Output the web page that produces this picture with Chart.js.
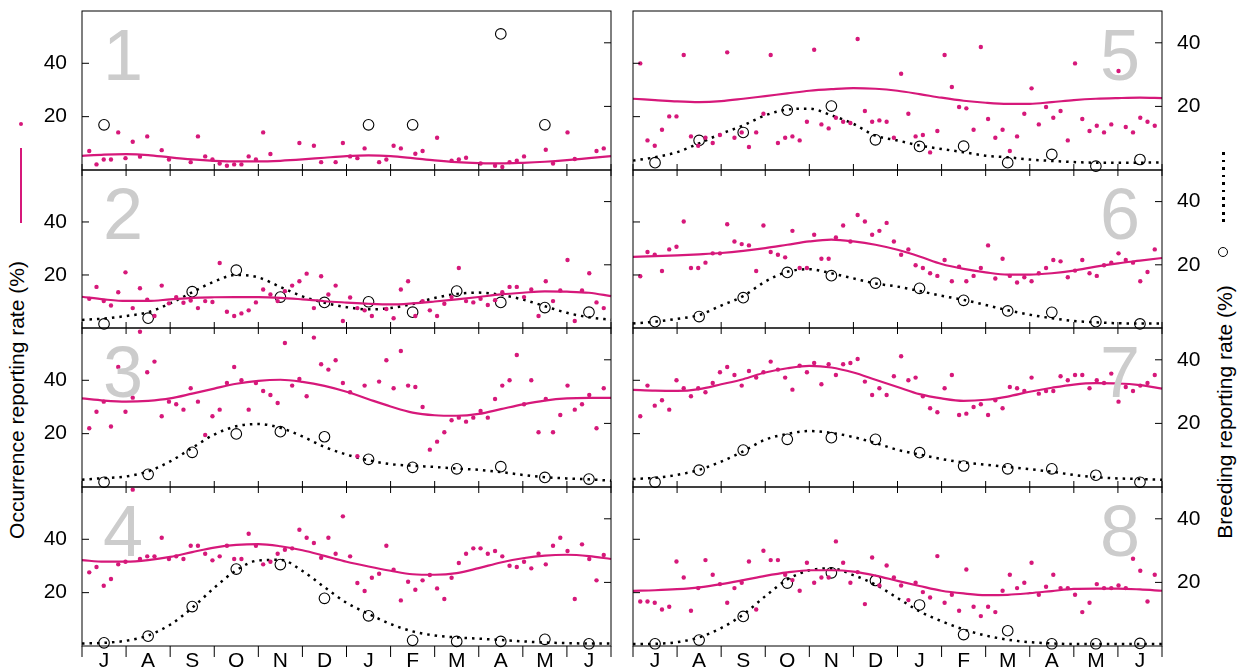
<!DOCTYPE html>
<html>
<head>
<meta charset="utf-8">
<script src="https://cdn.jsdelivr.net/npm/chart.js@4.4.0/dist/chart.umd.min.js"></script>
<style>
body { margin:0; background:#fff; width:1241px; height:669px; position:relative; overflow:hidden;
       font-family:"Liberation Sans", Arial, sans-serif; color:#000; }
canvas { position:absolute; }
.num { position:absolute; font-size:72px; line-height:72px; color:#cccccc; }
.ytitle { position:absolute; font-size:21px; white-space:nowrap; transform:translate(-50%,-50%) rotate(-90deg); }
.key { position:absolute; }
</style>
</head>
<body>

<div class="ytitle" style="left:17px;top:400px;">Occurrence reporting rate (%)</div>
<div class="ytitle" style="left:1225px;top:412px;">Breeding reporting rate (%)</div>

<div class="key" style="left:19px;top:122px;width:4.4px;height:4.4px;border-radius:50%;background:#d6187a;"></div>
<div class="key" style="left:20px;top:148px;width:2px;height:75px;background:#d6187a;"></div>
<div class="key" style="left:1222px;top:152px;width:2.5px;height:71px;background:repeating-linear-gradient(to bottom,#000 0,#000 2.5px,transparent 2.5px,transparent 7.5px);"></div>
<div class="key" style="left:1217.7px;top:246.7px;width:10.6px;height:10.6px;box-sizing:border-box;border:1.1px solid #000;border-radius:50%;"></div>

<script>
var pink = "#d6187a";
var monthLabels = ["J", "A", "S", "O", "N", "D", "J", "F", "M", "A", "M", "J"];
var yTicks = [20, 40];

// occurrence reporting rate, one value per pentad (pentads 1..72 of the year from July)
var occ1 = [7.1,2.1,3.95,3.95,14.1,4.45,10.6,5.0,12.6,null,7.45,3.95,null,null,2.95,12.6,5.1,3.95,2.45,1.6,2.1,2.1,5.1,3.95,14.1,6.0,null,null,null,10.1,null,9.1,2.95,null,2.95,10.1,5.1,4.45,8.1,null,2.95,3.95,9.1,8.1,null,6.1,7.1,null,12.1,null,3.45,3.95,4.6,null,2.45,null,1.6,1.1,2.95,3.45,5.1,null,null,7.6,2.45,null,14.1,4.1,null,null,7.1,8.1];
var occ2 = [11.0,15.5,10.15,8.5,13.5,21.0,7.5,15.0,10.65,4.5,16.0,9.3,11.65,9.5,10.4,7.5,10.15,9.8,24.5,6.15,4.5,5.5,6.65,9.65,14.5,12.65,10.15,13.9,16.0,17.65,20.5,7.5,19.5,12.65,16.0,2.65,11.5,7.5,6.65,4.5,null,7.15,3.65,14.5,17.65,4.5,10.15,6.65,4.5,9.15,11.65,22.65,10.15,9.65,11.0,8.65,10.5,13.5,15.5,15.5,11.65,14.5,4.5,17.65,10.15,14.15,25.65,2.65,14.15,20.65,9.65,7.5];
var occ3 = [22.0,28.2,32.0,22.7,45.0,28.2,33.5,58.2,43.0,47.0,26.5,32.0,31.0,29.0,37.0,32.0,19.5,26.5,29.0,39.0,45.0,40.0,29.0,39.0,36.0,34.5,31.5,54.0,38.0,40.5,34.0,56.0,46.0,44.0,47.5,39.0,35.5,11.5,38.0,null,39.5,47.5,37.0,51.0,38.0,37.5,30.0,14.0,17.0,20.5,25.0,26.0,24.5,26.0,28.5,26.0,33.0,38.0,40.0,49.5,31.0,40.0,20.5,33.0,20.5,27.0,38.0,29.0,31.0,34.5,22.0,37.0];
var occ4 = [27.6,29.6,22.6,25.1,30.6,31.6,58.6,32.6,33.6,33.6,40.6,32.6,33.6,32.6,37.6,37.6,34.6,32.1,33.6,37.6,32.6,32.6,42.1,37.6,30.6,31.6,34.6,36.1,36.6,43.6,40.6,38.6,33.1,40.6,34.6,48.6,33.6,23.6,20.6,25.6,27.1,37.6,28.6,17.1,24.1,21.1,24.6,26.6,21.6,17.6,25.6,31.1,34.6,36.6,36.6,34.6,35.6,33.6,30.1,29.6,31.6,29.1,34.6,30.6,37.6,40.6,35.6,17.6,38.1,32.6,24.6,34.1];
var occ5 = [39.95,11.1,9.1,15.1,20.1,20.1,43.1,12.6,9.1,12.1,10.1,13.1,44.1,12.1,14.1,8.6,14.1,21.1,43.1,10.1,12.1,12.6,11.1,18.1,45.1,17.1,15.6,19.6,18.1,17.6,49.1,22.1,18.1,18.6,18.1,12.1,36.1,21.1,12.6,13.1,6.6,14.6,43.1,31.1,23.6,23.1,15.1,46.1,19.1,12.1,15.1,7.1,12.6,21.1,30.6,17.1,23.6,19.6,22.1,11.1,39.95,19.1,14.6,16.6,14.1,17.1,37.1,16.1,14.1,19.6,18.1,16.6];
var occ6 = [19.5,28.65,27.65,21.5,29.65,30.65,40.15,22.65,22.65,24.65,28.15,28.15,39.15,32.65,31.65,31.15,21.5,38.65,28.65,27.65,26.65,36.65,22.65,22.65,35.15,26.15,26.15,34.15,38.65,32.65,42.65,40.15,35.15,36.65,39.65,32.65,27.65,29.65,23.65,22.65,20.65,19.65,25.65,17.65,23.15,17.65,19.65,22.65,31.15,18.65,26.15,19.65,17.15,19.15,17.65,20.65,22.65,25.65,25.15,19.15,21.65,25.65,20.65,19.65,23.65,24.65,28.15,25.65,24.65,17.65,21.15,29.65];
var occ7 = [26.5,38.0,30.5,32.5,29.0,40.0,37.0,34.0,37.0,35.5,39.0,43.0,45.0,42.0,38.0,43.5,41.0,43.0,47.0,44.0,41.0,36.5,45.5,43.0,46.5,38.5,46.0,42.0,46.0,46.5,48.0,39.5,34.5,37.0,34.5,41.5,49.0,40.0,41.0,34.0,29.5,28.0,37.0,42.0,27.0,27.5,30.0,31.0,27.0,32.5,29.5,37.5,37.0,36.0,41.0,35.0,36.0,36.0,41.5,40.0,42.0,42.0,37.0,40.0,39.0,42.5,32.0,37.5,36.0,38.0,39.0,42.0];
var occ8 = [16.7,16.7,16.2,13.7,14.7,31.7,25.7,13.2,21.7,32.2,26.7,23.2,16.2,21.7,23.7,31.7,13.7,35.7,32.2,32.2,26.7,24.7,20.7,31.2,23.7,25.7,25.7,39.2,31.2,23.7,27.7,15.7,33.2,22.7,30.2,25.7,22.7,17.2,23.7,20.2,18.2,33.7,16.2,19.2,13.2,28.7,14.7,11.2,14.7,12.7,20.7,26.7,21.7,23.7,31.2,19.2,22.2,26.7,21.7,21.7,19.2,12.7,16.2,23.2,21.7,21.7,22.7,21.7,32.7,28.2,16.7,26.7];

// smoothed occurrence, every half month from 1 July to 30 June
var occLine1 = [5.3,5.8,5.95,5.6,4.7,3.95,3.45,3.2,3.2,3.45,3.95,4.6,5.2,5.45,5.2,4.45,3.6,2.95,2.6,2.45,2.7,3.1,3.7,4.45,5.2];
var occLine2 = [11.8,10.8,10.2,10.2,10.8,11.4,11.6,11.65,11.65,11.4,10.8,10.1,9.6,9.15,8.9,9.3,10.0,10.8,11.7,12.65,13.3,13.8,13.7,13.3,12.0];
var occLine3 = [33.2,32.4,32.0,32.3,33.2,35.0,36.9,38.7,39.8,40.2,39.4,37.9,35.7,32.9,30.2,27.9,26.9,26.7,27.4,29.2,31.0,32.4,33.2,33.4,33.4];
var occLine4 = [32.2,31.6,31.6,32.2,33.4,35.2,36.9,37.9,38.2,37.4,35.9,33.8,31.6,29.8,28.2,26.9,26.7,27.3,29.2,31.3,32.9,33.9,34.2,33.7,32.6];
var occLine5 = [26.7,26.2,25.7,25.45,25.8,26.7,27.7,28.7,29.7,30.3,30.7,30.45,29.7,28.45,27.1,25.95,25.2,24.8,24.8,25.45,26.2,26.7,26.95,27.1,26.95];
var occLine6 = [26.8,27.1,27.4,27.8,28.3,29.1,30.15,31.4,32.65,33.3,32.65,31.4,29.5,27.0,24.15,22.3,21.0,20.15,20.15,20.65,21.65,23.15,24.4,25.4,26.4];
var occLine7 = [36.4,36.1,36.0,36.7,38.5,40.4,42.9,44.5,45.4,44.8,42.9,40.2,37.5,34.8,33.2,32.3,32.7,33.9,35.7,37.2,38.4,38.9,38.8,38.2,36.9];
var occLine8 = [20.7,20.9,21.3,22.0,23.2,24.7,26.3,27.6,28.4,28.4,27.9,26.4,24.4,22.5,20.7,19.7,19.1,19.2,19.8,20.6,21.4,21.5,21.5,21.2,20.7];

// breeding reporting rate, monthly (mid month)
var breed1 = [14.2,null,null,null,null,null,14.2,14.2,null,42.8,14.2,null];
var breed2 = [1.3,3.1,11.5,18.3,9.8,8.1,8.3,5.0,11.7,8.1,6.45,5.0];
var breed3 = [1.5,4.0,10.9,16.7,17.4,15.8,8.7,6.2,5.7,6.4,3.0,2.5];
var breed4 = [1.0,3.1,12.4,24.2,25.6,15.0,9.5,1.8,1.45,1.45,2.1,0.7];
var breed5 = [2.3,9.3,11.8,18.8,20.1,9.5,7.4,7.5,2.3,4.9,1.2,3.3];
var breed6 = [2.0,3.6,9.6,17.6,16.55,14.2,12.55,8.75,5.4,4.97,2.0,1.3];
var breed7 = [1.5,5.3,11.6,15.0,15.5,15.0,10.8,6.6,5.7,5.7,3.7,1.5];
var breed8 = [0.7,1.85,9.3,19.8,23.0,20.6,12.9,3.6,4.8,0.7,0.7,0.8];

// smoothed breeding, every half month
var breedLine2 = [2.55,3.0,3.8,5.0,7.8,11.3,14.7,16.8,16.0,13.0,10.0,8.0,6.6,5.9,6.3,7.6,9.5,10.8,11.2,10.5,9.0,6.9,4.8,3.4,2.6];
var breedLine3 = [2.3,2.8,3.3,4.9,8.05,12.3,16.5,19.1,19.8,18.6,15.9,12.6,10.2,8.4,7.2,6.7,6.3,5.8,5.4,4.7,3.8,3.1,2.7,2.4,2.0];
var breedLine4 = [0.8,1.0,1.65,3.3,6.7,12.0,18.3,23.8,26.9,27.1,23.6,18.5,13.6,10.1,6.9,4.6,3.3,2.7,2.3,1.9,1.45,1.1,0.9,0.8,0.8];
var breedLine5 = [2.95,4.0,5.6,8.4,11.4,14.0,17.2,19.0,19.3,17.2,14.5,10.8,9.3,7.7,6.6,5.6,4.5,4.0,3.3,2.85,2.5,2.3,2.3,2.3,2.4];
var breedLine6 = [1.4,2.0,2.9,4.1,7.1,10.1,14.7,17.8,18.6,17.3,15.7,14.1,13.1,11.7,10.2,8.9,7.3,5.6,4.2,3.1,2.2,1.8,1.5,1.4,1.4];
var breedLine7 = [2.5,2.9,3.8,5.4,8.0,11.2,14.9,16.7,17.6,17.0,15.7,13.8,11.7,10.2,8.8,7.7,7.0,6.3,5.6,4.8,3.8,3.1,2.7,2.5,2.3];
var breedLine8 = [0.6,0.7,1.2,2.7,5.65,9.9,15.65,20.9,23.8,24.4,22.3,19.3,15.1,10.9,7.8,5.2,3.3,2.0,1.2,0.8,0.6,0.6,0.6,0.6,0.6];

var panels = [
  {occ: occ1, occLine: occLine1, breed: breed1, breedLine: null},
  {occ: occ2, occLine: occLine2, breed: breed2, breedLine: breedLine2},
  {occ: occ3, occLine: occLine3, breed: breed3, breedLine: breedLine3},
  {occ: occ4, occLine: occLine4, breed: breed4, breedLine: breedLine4},
  {occ: occ5, occLine: occLine5, breed: breed5, breedLine: breedLine5},
  {occ: occ6, occLine: occLine6, breed: breed6, breedLine: breedLine6},
  {occ: occ7, occLine: occLine7, breed: breed7, breedLine: breedLine7},
  {occ: occ8, occLine: occLine8, breed: breed8, breedLine: breedLine8}
];

// x axis is in months since 1 July
var pentadX = [], halfMonthX = [], midMonthX = [];
for (var i = 1; i <= 72; i++) pentadX.push(i * 12 / 73);
for (var i = 0; i <= 24; i++) halfMonthX.push(i / 2);
for (var i = 0; i < 12; i++) midMonthX.push(i + 0.5);

var plotW = 529;
var colLeft = [82, 633];
var rowTop = [11, 170, 328, 487];
var rowBottom = [170, 328, 487, 646];
var ML = 70, MR = 70, MT = 10;

Chart.defaults.font.family = '"Liberation Sans", Arial, sans-serif';
Chart.defaults.color = "#000";

function pts(xs, ys) {
  var out = [];
  for (var i = 0; i < ys.length; i++) {
    if (ys[i] != null) out.push({x: xs[i], y: ys[i]});
  }
  return out;
}

// box, inward ticks on both y axes, month ticks on the bottom
var framePlugin = {
  id: "frame",
  afterDraw: function(chart, args, opts) {
    var c = chart.ctx, a = chart.chartArea;
    var yL = chart.scales.yL, yR = chart.scales.yR, x = chart.scales.x;
    c.save();
    c.strokeStyle = "#000";
    c.lineWidth = 1;
    c.strokeRect(a.left, a.top, a.right - a.left, a.bottom - a.top);
    c.beginPath();
    yTicks.forEach(function(v) {
      var py = yL.getPixelForValue(v);
      c.moveTo(a.left, py); c.lineTo(a.left + 7, py);
      py = yR.getPixelForValue(v);
      c.moveTo(a.right, py); c.lineTo(a.right - 7, py);
    });
    for (var m = 0; m <= 12; m++) {
      var px = x.getPixelForValue(m);
      if (opts.bottomRow) { c.moveTo(px, a.bottom); c.lineTo(px, a.bottom + 11); }
      else { c.moveTo(px, a.bottom - 6); c.lineTo(px, a.bottom + 6); }
    }
    c.stroke();
    c.restore();
  }
};

function yScale(pos, max, showLabels, w) {
  return {
    type: "linear", position: pos, min: 0, max: max,
    grid: {display: false, drawTicks: false}, border: {display: false},
    afterBuildTicks: function(s) { s.ticks = yTicks.map(function(v) { return {value: v}; }); },
    ticks: {display: showLabels, padding: 15, font: {size: 21}, color: "#000"},
    afterFit: function(s) { s.width = w; s.paddingTop = 0; s.paddingBottom = 0; }
  };
}

function makePanel(n) {
  var p = panels[n];
  var col = n < 4 ? 0 : 1;
  var row = n % 4;
  var bottomRow = row == 3;
  var plotH = rowBottom[row] - rowTop[row];
  var MB = bottomRow ? 669 - rowBottom[row] : 10;

  var cv = document.createElement("canvas");
  cv.width = ML + plotW + MR;
  cv.height = MT + plotH + MB;
  cv.style.left = (colLeft[col] - ML) + "px";
  cv.style.top = (rowTop[row] - MT) + "px";
  document.body.appendChild(cv);

  var num = document.createElement("div");
  num.className = "num";
  num.textContent = String(n + 1);
  num.style.top = (rowTop[row] + 8) + "px";
  if (col == 0) num.style.left = "103px";
  else num.style.right = (1241 - 1140) + "px";
  document.body.appendChild(num);

  var datasets = [
    {data: pts(pentadX, p.occ), yAxisID: "yL", showLine: false, pointRadius: 2.2,
     pointBackgroundColor: pink, pointBorderWidth: 0, clip: false},
    {data: pts(halfMonthX, p.occLine), yAxisID: "yL", showLine: true, borderColor: pink,
     borderWidth: 2.2, pointRadius: 0, cubicInterpolationMode: "monotone", clip: false}
  ];
  if (p.breedLine) {
    datasets.push({data: pts(halfMonthX, p.breedLine), yAxisID: "yR", showLine: true, borderColor: "#000",
      borderWidth: 2.5, borderDash: [2.5, 5], borderCapStyle: "butt", pointRadius: 0,
      cubicInterpolationMode: "monotone", clip: false});
  }
  datasets.push({data: pts(midMonthX, p.breed), yAxisID: "yR", showLine: false, pointRadius: 5.3,
    pointBorderColor: "#000", pointBorderWidth: 1.1, pointBackgroundColor: "rgba(0,0,0,0)", clip: false});

  new Chart(cv, {
    type: "scatter",
    data: {datasets: datasets},
    options: {
      responsive: false, animation: false, devicePixelRatio: 1,
      layout: {padding: {top: MT, left: 0, right: 0, bottom: 0}},
      plugins: {legend: {display: false}, tooltip: {enabled: false}, frame: {bottomRow: bottomRow}},
      scales: {
        x: {
          type: "linear", position: "bottom", min: 0, max: 12,
          grid: {display: false, drawTicks: false}, border: {display: false},
          afterBuildTicks: function(s) { s.ticks = midMonthX.map(function(v) { return {value: v}; }); },
          ticks: {display: bottomRow, autoSkip: false, maxRotation: 0, padding: 3, font: {size: 21}, color: "#000",
                  callback: function(v, i) { return monthLabels[i]; }},
          afterFit: function(s) { s.height = MB; s.paddingLeft = 0; s.paddingRight = 0; }
        },
        yL: yScale("left", 59.6, col == 0, ML),
        yR: yScale("right", 50, col == 1, MR)
      }
    },
    plugins: [framePlugin]
  });
}

for (var n = 0; n < 8; n++) makePanel(n);
</script>
</body>
</html>
